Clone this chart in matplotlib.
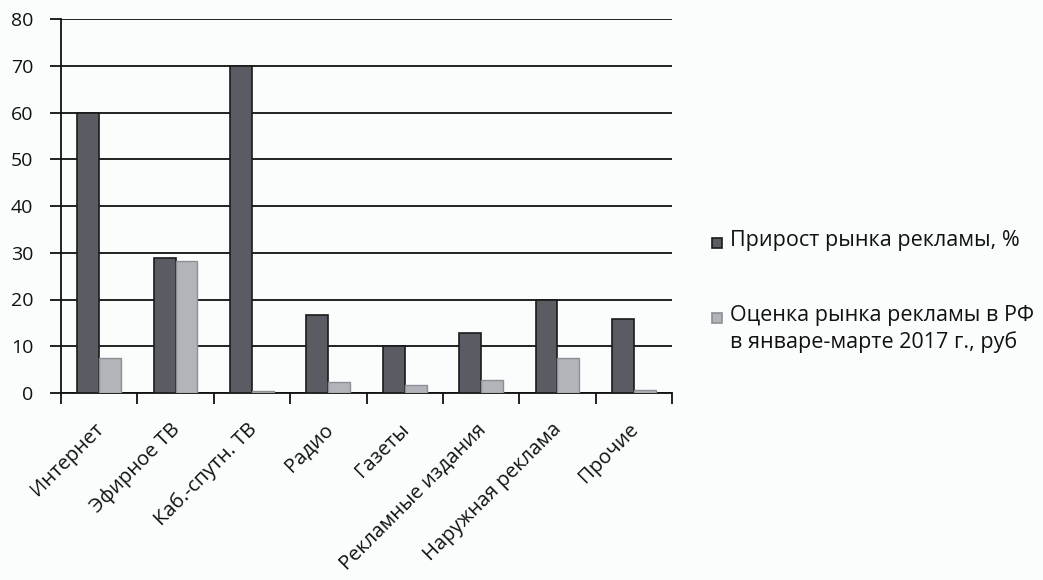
import matplotlib
matplotlib.use("Agg")
import matplotlib.pyplot as plt
import numpy as np
from matplotlib.patches import Rectangle
from matplotlib.transforms import ScaledTranslation

plt.rcParams['font.family'] = ['Open Sans', 'DejaVu Sans']

categories = ["Интернет", "Эфирное ТВ", "Каб.-спутн. ТВ", "Радио", "Газеты",
              "Рекламные издания", "Наружная реклама", "Прочие"]
growth = [60, 28.9, 70, 16.7, 10, 12.8, 20, 15.8]
market = [7.5, 28.2, 0.4, 2.4, 1.7, 2.7, 7.4, 0.7]
series_names = ["Прирост рынка рекламы, %",
                "Оценка рынка рекламы в РФ\nв январе-марте 2017 г., руб"]
yticks = [0, 10, 20, 30, 40, 50, 60, 70, 80]

dark = "#595c63"
light = "#b1b4b9"
dark_edge = "#1a1a1a"
light_edge = "#8c8f94"
ink = "#111111"
bg = "#fbfdfd"

W, H = 1043, 580
fig = plt.figure(figsize=(W / 100, H / 100), dpi=100, facecolor=bg)
ax = fig.add_axes([61 / W, 1 - 393 / H, (672 - 61) / W, (393 - 19) / H], facecolor=bg)

x = np.arange(len(categories))
w = 1 / 3.5
ax.bar(x - w / 2, growth, width=w, color=dark, edgecolor=dark_edge, linewidth=1.2, zorder=3)
ax.bar(x + w / 2, market, width=w, color=light, edgecolor=light_edge, linewidth=1.0, zorder=3)

ax.set_xlim(-0.5, len(categories) - 0.5)
ax.set_ylim(0, 80)
ax.set_yticks(yticks)
ax.yaxis.grid(True, color=ink, linewidth=1.3, zorder=1)
ax.set_axisbelow(True)

for s in ["top", "right"]:
    ax.spines[s].set_visible(False)
for s in ["left", "bottom"]:
    ax.spines[s].set_color(ink)
    ax.spines[s].set_linewidth(1.3)

# ticks at category boundaries, labels at category centres
ax.set_xticks(np.arange(len(categories) + 1) - 0.5)
ax.set_xticklabels([])
ax.set_xticks(x, minor=True)
ax.set_xticklabels(categories, minor=True, rotation=45, ha="right",
                   rotation_mode="anchor", fontsize=14.5, color=ink)
ax.tick_params(axis="x", which="major", length=8, width=1.3, color=ink, direction="out")
ax.tick_params(axis="x", which="minor", length=0, pad=19)
ax.tick_params(axis="y", length=8, width=1.3, color=ink, labelsize=14,
               labelcolor=ink, pad=12)

shift = ScaledTranslation(-4 / 72, 0, fig.dpi_scale_trans)
for lbl in ax.get_xticklabels(minor=True):
    lbl.set_transform(lbl.get_transform() + shift)

# legend drawn in figure pixel coordinates
def fx(px):
    return px / W

def fy(py):
    return 1 - py / H

entries = [(243, series_names[0], dark, dark_edge),
           (318, series_names[1], light, light_edge)]
for cy, label, fc, ec in entries:
    fig.patches.append(Rectangle((fx(712), fy(cy + 5)), 10 / W, 10 / H,
                                 transform=fig.transFigure, facecolor=fc,
                                 edgecolor=ec, linewidth=1.2))
    fig.text(fx(730), fy(cy - 13), label, ha="left", va="top", fontsize=15.5,
             color=ink, linespacing=1.33)

fig.savefig("out.png", dpi=100, facecolor=bg)
